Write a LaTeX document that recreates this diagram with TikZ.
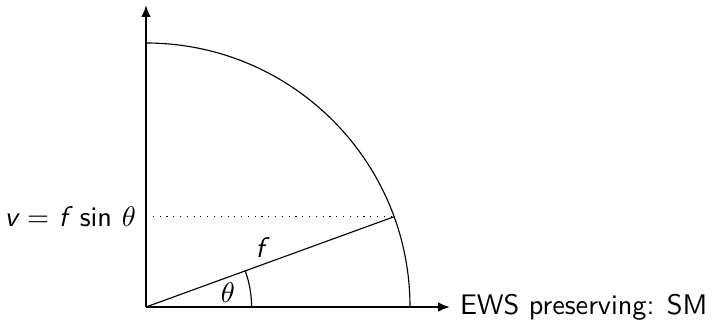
\documentclass[tikz,border=0pt]{standalone}
\usetikzlibrary{arrows.meta,calc}
\newcommand{\sfi}[1]{{\sffamily\itshape #1}}
\begin{document}
\begin{tikzpicture}[x=0.3533pt,y=0.3533pt,font=\sffamily,
  axis/.style={thick,-{Latex[length=4.2pt,width=3.4pt]}},
  thinline/.style={line width=0.4pt}]
\useasboundingbox (0,0) rectangle (716,322);
\coordinate (O) at (146,15);
\coordinate (xend) at (450,15);
\coordinate (yend) at (146,317);
\coordinate (P) at ($(O)+(20:264)$);
\coordinate (V) at (P -| O);
% quarter circle
\draw[thinline] ($(O)+(264,0)$) arc (0:90:264);
% radius f
\draw[thinline] (O) -- (P);
% dotted projection
\draw[thinline,dotted] (V) -- (P);
% angle arc
\draw[thinline] ($(O)+(105.6,0)$) arc (0:20:105.6);
% axes
\draw[axis] (O) -- (xend);
\draw[axis] (O) -- (yend);
% labels
\node[anchor=east,inner sep=3.333pt] (vlab) at (V) {\sfi{v}\hspace{3.3pt}$=$\hspace{3.5pt}\sfi{f}\hspace{4.3pt}sin\hspace{3.5pt}$\theta$};
\node[anchor=west,inner sep=3.333pt] (xlab) at (xend) {EWS preserving: SM};
\node (flab) at (260,74) {\sfi{f}};
\node (tlab) at (228,29) {$\theta$};
\end{tikzpicture}
\end{document}
